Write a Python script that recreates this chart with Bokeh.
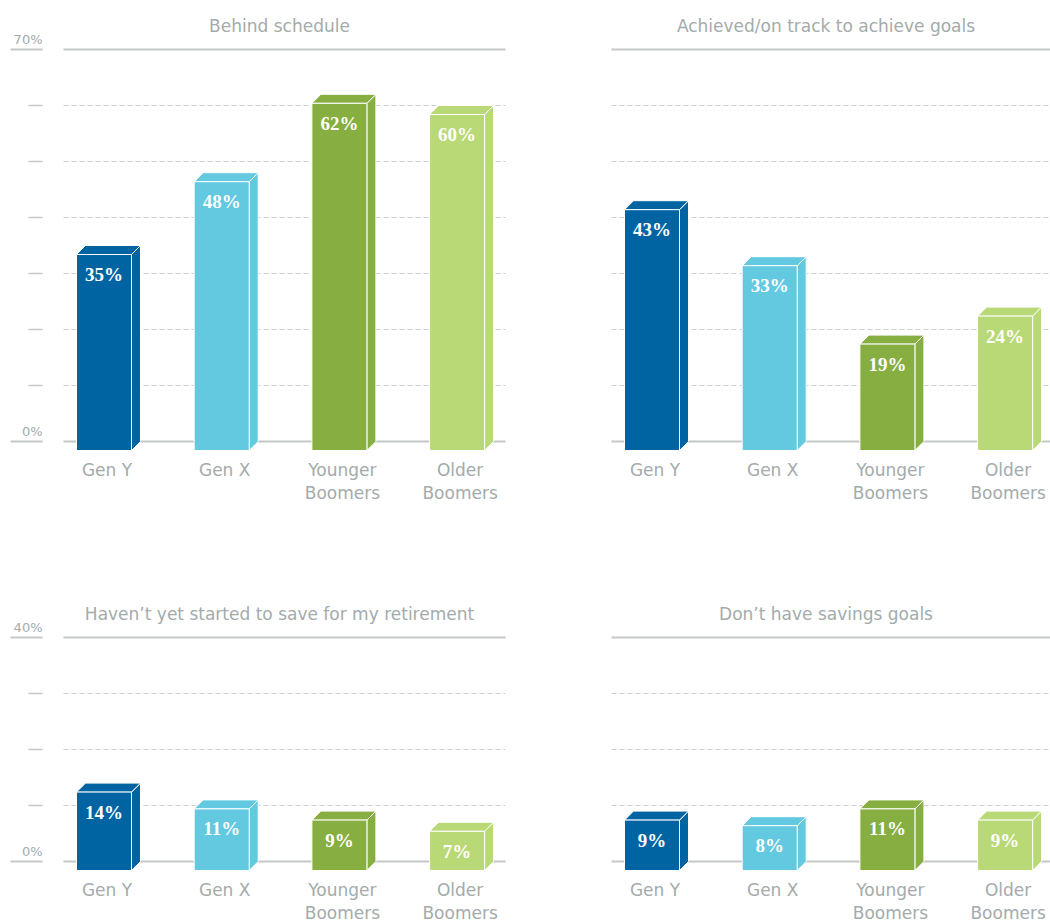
import numpy as np
from bokeh.plotting import figure
from bokeh.layouts import gridplot
from bokeh.models import Range1d
from bokeh.core.properties import value
from bokeh.embed import file_html
from bokeh.resources import INLINE

# ---------------- data ----------------
CATEGORIES = ["Gen Y", "Gen X", "Younger\nBoomers", "Older\nBoomers"]
BEHIND_SCHEDULE = [35, 48, 62, 60]
ON_TRACK = [43, 33, 19, 24]
NOT_STARTED = [14, 11, 9, 7]
NO_GOALS = [9, 8, 11, 9]
TITLES = ["Behind schedule",
          "Achieved/on track to achieve goals",
          "Haven\u2019t yet started to save for my retirement",
          "Don\u2019t have savings goals"]
TOP_MAX = 70
BOTTOM_MAX = 40
TICK_STEP = 10

# ---------------- style / layout ----------------
COLORS = ["#0064a3", "#62c9e0", "#86ae40", "#b9d977"]
GRAY_TEXT = "#a3abab"
GRID_DASH = "#cdd1d1"
GRID_SOLID = "#c3c8c8"
SANS = "DejaVu Sans"
SERIF = "Liberation Serif"

PX_PER_CAT = 117.7
PX_PER_PCT = 5.6
BAR_W = 55
DEPTH = 9


def panel(vals, title, ymax, fig_w, fig_h, c0, zero_px, grid_l, grid_r, show_y):
    def xd(px):
        return (px - c0) / PX_PER_CAT

    xr = Range1d(xd(0), xd(fig_w))
    yr = Range1d(-(fig_h - zero_px) / PX_PER_PCT, zero_px / PX_PER_PCT)
    p = figure(width=fig_w, height=fig_h, x_range=xr, y_range=yr,
               output_backend="svg", toolbar_location=None,
               x_axis_location=None, y_axis_location=None,
               min_border=0, outline_line_color=None,
               background_fill_color="white", border_fill_color="white")
    p.xgrid.visible = False
    p.ygrid.visible = False

    levels = list(range(0, ymax + 1, TICK_STEP))
    inner = levels[1:-1]
    ends = [levels[0], levels[-1]]
    gx0, gx1 = xd(grid_l), xd(grid_r)
    p.segment(x0=[gx0] * len(inner), x1=[gx1] * len(inner), y0=inner, y1=inner,
              line_color=GRID_DASH, line_width=1, line_dash="5 3")
    p.segment(x0=[gx0] * 2, x1=[gx1] * 2, y0=ends, y1=ends,
              line_color=GRID_SOLID, line_width=2)

    if show_y:
        p.segment(x0=[xd(28)] * len(inner), x1=[xd(42)] * len(inner), y0=inner, y1=inner,
                  line_color=GRID_SOLID, line_width=1.5)
        p.segment(x0=[xd(10)] * 2, x1=[xd(42)] * 2, y0=ends, y1=ends,
                  line_color=GRID_SOLID, line_width=2)
        p.text(x=[xd(42)] * 2, y=ends, text=[f"{v}%" for v in ends],
               text_font=value(SANS), text_font_size="13px", text_color=GRAY_TEXT,
               text_align="right", text_baseline="bottom", y_offset=-3)

    # title
    p.text(x=[xd((grid_l + grid_r) / 2 - 5)], y=[ymax], text=[title],
           text_font=value(SANS), text_font_size="17px", text_color=GRAY_TEXT,
           text_align="center", text_baseline="middle", y_offset=-24)

    hw = (BAR_W / 2) / PX_PER_CAT
    dx = DEPTH / PX_PER_CAT
    dy = DEPTH / PX_PER_PCT
    idx = np.arange(len(vals))
    v = np.array(vals, dtype=float)

    # side faces
    side_xs = [[i + hw, i + hw + dx, i + hw + dx, i + hw] for i in idx]
    side_ys = [[val - dy, val, 0, -dy] for val in v]
    p.patches(xs=side_xs, ys=side_ys, fill_color=COLORS, line_color="white", line_width=1)
    # top faces
    top_xs = [[i - hw, i + hw, i + hw + dx, i - hw + dx] for i in idx]
    top_ys = [[val - dy, val - dy, val, val] for val in v]
    p.patches(xs=top_xs, ys=top_ys, fill_color=COLORS, line_color="white", line_width=1)
    # front faces
    p.quad(left=idx - hw, right=idx + hw, bottom=-dy, top=v - dy,
           fill_color=COLORS, line_color="white", line_width=1)

    # value labels
    p.text(x=idx, y=v - dy, text=[f"{int(val)}%" for val in vals],
           text_font=value(SERIF), text_font_style="bold", text_font_size="19px",
           text_color="white", text_align="center", text_baseline="middle", y_offset=20)

    # category labels
    p.text(x=idx, y=[0] * len(vals), text=CATEGORIES,
           text_font=value(SANS), text_font_size="17px", text_color=GRAY_TEXT,
           text_align="center", text_baseline="top", y_offset=18, x_offset=3,
           text_line_height=1.15)
    return p


LW, RW = 540, 510
TH, BH = 560, 361
p1 = panel(BEHIND_SCHEDULE, TITLES[0], TOP_MAX, LW, TH, 103.5, 441, 63, 505, True)
p2 = panel(ON_TRACK, TITLES[1], TOP_MAX, RW, TH, 111.5, 441, 71, 510, False)
p3 = panel(NOT_STARTED, TITLES[2], BOTTOM_MAX, LW, BH, 103.5, 301, 63, 505, True)
p4 = panel(NO_GOALS, TITLES[3], BOTTOM_MAX, RW, BH, 111.5, 301, 71, 510, False)

grid = gridplot([[p1, p2], [p3, p4]], toolbar_location=None)
open("out.html", "w").write(file_html(grid, INLINE))
